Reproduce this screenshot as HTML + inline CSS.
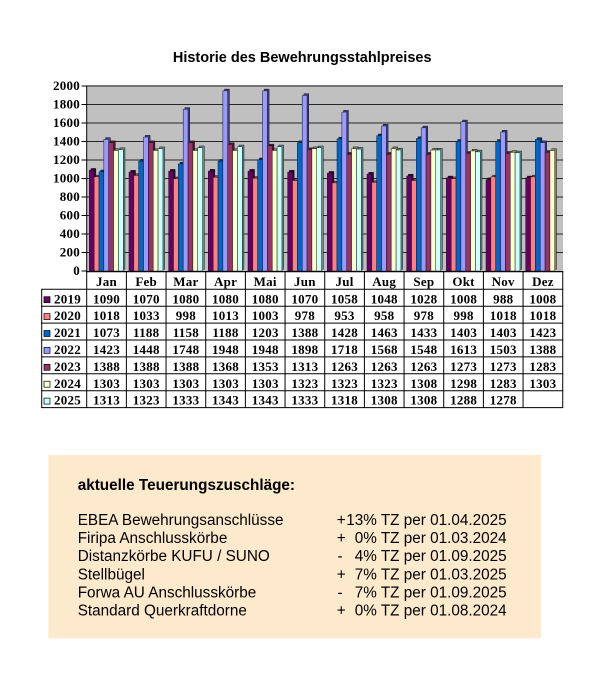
<!DOCTYPE html>
<html>
<head>
<meta charset="utf-8">
<style>
html,body{margin:0;padding:0;background:#fff;}
body{width:607px;height:678px;overflow:hidden;}
svg{display:block;}
.bars rect{stroke:#151515;stroke-width:0.5;vector-effect:non-scaling-stroke;}
.f0{fill:#660066}.b0{fill:#2e002e}
.f1{fill:#ff8080}.b1{fill:#9a4646}
.f2{fill:#0066cc}.b2{fill:#00336b}
.f3{fill:#9999ff}.b3{fill:#3d3d8a}
.f4{fill:#993366}.b4{fill:#4d1530}
.f5{fill:#ffffcc}.b5{fill:#86865e}
.f6{fill:#ccffff}.b6{fill:#5f8f8f}
.ser{font-family:"Liberation Serif",serif;font-weight:bold;font-size:13px;letter-spacing:0.25px;fill:#000;}
.sans{font-family:"Liberation Sans",Arial,sans-serif;fill:#000;}
</style>
</head>
<body>
<svg width="607" height="678" viewBox="0 0 607 678" xmlns="http://www.w3.org/2000/svg">
<!-- title -->
<text class="sans" x="302.2" y="62" text-anchor="middle" font-size="14.5" font-weight="bold">Historie des Bewehrungsstahlpreises</text>

<!-- plot background -->
<rect x="87" y="85" width="476" height="186" fill="#c0c0c0"/>

<!-- gridlines -->
<g stroke="#262626" stroke-width="0.9">
<line x1="87" y1="252.5" x2="563" y2="252.5"/>
<line x1="87" y1="234" x2="563" y2="234"/>
<line x1="87" y1="215.5" x2="563" y2="215.5"/>
<line x1="87" y1="197" x2="563" y2="197"/>
<line x1="87" y1="178.5" x2="563" y2="178.5"/>
<line x1="87" y1="160" x2="563" y2="160"/>
<line x1="87" y1="141.5" x2="563" y2="141.5"/>
<line x1="87" y1="123" x2="563" y2="123"/>
<line x1="87" y1="104.5" x2="563" y2="104.5"/>
<line x1="87" y1="86" x2="563" y2="86"/>
</g>
<!-- ticks & y axis -->
<g stroke="#000" stroke-width="1">
<line x1="86.7" y1="85.5" x2="86.7" y2="272"/>
<line x1="81.5" y1="271" x2="87" y2="271"/>
<line x1="81.5" y1="252.5" x2="87" y2="252.5"/>
<line x1="81.5" y1="234" x2="87" y2="234"/>
<line x1="81.5" y1="215.5" x2="87" y2="215.5"/>
<line x1="81.5" y1="197" x2="87" y2="197"/>
<line x1="81.5" y1="178.5" x2="87" y2="178.5"/>
<line x1="81.5" y1="160" x2="87" y2="160"/>
<line x1="81.5" y1="141.5" x2="87" y2="141.5"/>
<line x1="81.5" y1="123" x2="87" y2="123"/>
<line x1="81.5" y1="104.5" x2="87" y2="104.5"/>
<line x1="81.5" y1="86" x2="87" y2="86"/>
</g>
<g class="ser" text-anchor="end">
<text x="80" y="275">0</text>
<text x="80" y="256.5">200</text>
<text x="80" y="238">400</text>
<text x="80" y="219.5">600</text>
<text x="80" y="201">800</text>
<text x="80" y="182.5">1000</text>
<text x="80" y="164">1200</text>
<text x="80" y="145.5">1400</text>
<text x="80" y="127">1600</text>
<text x="80" y="108.5">1800</text>
<text x="80" y="90">2000</text>
</g>

<!-- bars -->
<g class="bars" transform="translate(0,271) scale(1,-0.0925)">
<g transform="translate(86.7,0)">
<rect class="b0" x="4.3" y="18.4" width="4.85" height="1090"/><rect class="f0" x="2.6" y="0" width="4.85" height="1090"/>
<rect class="b1" x="9.15" y="18.4" width="4.85" height="1018"/><rect class="f1" x="7.45" y="0" width="4.85" height="1018"/>
<rect class="b2" x="14" y="18.4" width="4.85" height="1073"/><rect class="f2" x="12.3" y="0" width="4.85" height="1073"/>
<rect class="b3" x="18.85" y="18.4" width="4.85" height="1423"/><rect class="f3" x="17.15" y="0" width="4.85" height="1423"/>
<rect class="b4" x="23.7" y="18.4" width="4.85" height="1388"/><rect class="f4" x="22" y="0" width="4.85" height="1388"/>
<rect class="b5" x="28.55" y="18.4" width="4.85" height="1303"/><rect class="f5" x="26.85" y="0" width="4.85" height="1303"/>
<rect class="b6" x="33.4" y="18.4" width="4.85" height="1313"/><rect class="f6" x="31.7" y="0" width="4.85" height="1313"/>
</g>
<g transform="translate(126.37,0)">
<rect class="b0" x="4.3" y="18.4" width="4.85" height="1070"/><rect class="f0" x="2.6" y="0" width="4.85" height="1070"/>
<rect class="b1" x="9.15" y="18.4" width="4.85" height="1033"/><rect class="f1" x="7.45" y="0" width="4.85" height="1033"/>
<rect class="b2" x="14" y="18.4" width="4.85" height="1188"/><rect class="f2" x="12.3" y="0" width="4.85" height="1188"/>
<rect class="b3" x="18.85" y="18.4" width="4.85" height="1448"/><rect class="f3" x="17.15" y="0" width="4.85" height="1448"/>
<rect class="b4" x="23.7" y="18.4" width="4.85" height="1388"/><rect class="f4" x="22" y="0" width="4.85" height="1388"/>
<rect class="b5" x="28.55" y="18.4" width="4.85" height="1303"/><rect class="f5" x="26.85" y="0" width="4.85" height="1303"/>
<rect class="b6" x="33.4" y="18.4" width="4.85" height="1323"/><rect class="f6" x="31.7" y="0" width="4.85" height="1323"/>
</g>
<g transform="translate(166.04,0)">
<rect class="b0" x="4.3" y="18.4" width="4.85" height="1080"/><rect class="f0" x="2.6" y="0" width="4.85" height="1080"/>
<rect class="b1" x="9.15" y="18.4" width="4.85" height="998"/><rect class="f1" x="7.45" y="0" width="4.85" height="998"/>
<rect class="b2" x="14" y="18.4" width="4.85" height="1158"/><rect class="f2" x="12.3" y="0" width="4.85" height="1158"/>
<rect class="b3" x="18.85" y="18.4" width="4.85" height="1748"/><rect class="f3" x="17.15" y="0" width="4.85" height="1748"/>
<rect class="b4" x="23.7" y="18.4" width="4.85" height="1388"/><rect class="f4" x="22" y="0" width="4.85" height="1388"/>
<rect class="b5" x="28.55" y="18.4" width="4.85" height="1303"/><rect class="f5" x="26.85" y="0" width="4.85" height="1303"/>
<rect class="b6" x="33.4" y="18.4" width="4.85" height="1333"/><rect class="f6" x="31.7" y="0" width="4.85" height="1333"/>
</g>
<g transform="translate(205.71,0)">
<rect class="b0" x="4.3" y="18.4" width="4.85" height="1080"/><rect class="f0" x="2.6" y="0" width="4.85" height="1080"/>
<rect class="b1" x="9.15" y="18.4" width="4.85" height="1013"/><rect class="f1" x="7.45" y="0" width="4.85" height="1013"/>
<rect class="b2" x="14" y="18.4" width="4.85" height="1188"/><rect class="f2" x="12.3" y="0" width="4.85" height="1188"/>
<rect class="b3" x="18.85" y="18.4" width="4.85" height="1948"/><rect class="f3" x="17.15" y="0" width="4.85" height="1948"/>
<rect class="b4" x="23.7" y="18.4" width="4.85" height="1368"/><rect class="f4" x="22" y="0" width="4.85" height="1368"/>
<rect class="b5" x="28.55" y="18.4" width="4.85" height="1303"/><rect class="f5" x="26.85" y="0" width="4.85" height="1303"/>
<rect class="b6" x="33.4" y="18.4" width="4.85" height="1343"/><rect class="f6" x="31.7" y="0" width="4.85" height="1343"/>
</g>
<g transform="translate(245.38,0)">
<rect class="b0" x="4.3" y="18.4" width="4.85" height="1080"/><rect class="f0" x="2.6" y="0" width="4.85" height="1080"/>
<rect class="b1" x="9.15" y="18.4" width="4.85" height="1003"/><rect class="f1" x="7.45" y="0" width="4.85" height="1003"/>
<rect class="b2" x="14" y="18.4" width="4.85" height="1203"/><rect class="f2" x="12.3" y="0" width="4.85" height="1203"/>
<rect class="b3" x="18.85" y="18.4" width="4.85" height="1948"/><rect class="f3" x="17.15" y="0" width="4.85" height="1948"/>
<rect class="b4" x="23.7" y="18.4" width="4.85" height="1353"/><rect class="f4" x="22" y="0" width="4.85" height="1353"/>
<rect class="b5" x="28.55" y="18.4" width="4.85" height="1303"/><rect class="f5" x="26.85" y="0" width="4.85" height="1303"/>
<rect class="b6" x="33.4" y="18.4" width="4.85" height="1343"/><rect class="f6" x="31.7" y="0" width="4.85" height="1343"/>
</g>
<g transform="translate(285.05,0)">
<rect class="b0" x="4.3" y="18.4" width="4.85" height="1070"/><rect class="f0" x="2.6" y="0" width="4.85" height="1070"/>
<rect class="b1" x="9.15" y="18.4" width="4.85" height="978"/><rect class="f1" x="7.45" y="0" width="4.85" height="978"/>
<rect class="b2" x="14" y="18.4" width="4.85" height="1388"/><rect class="f2" x="12.3" y="0" width="4.85" height="1388"/>
<rect class="b3" x="18.85" y="18.4" width="4.85" height="1898"/><rect class="f3" x="17.15" y="0" width="4.85" height="1898"/>
<rect class="b4" x="23.7" y="18.4" width="4.85" height="1313"/><rect class="f4" x="22" y="0" width="4.85" height="1313"/>
<rect class="b5" x="28.55" y="18.4" width="4.85" height="1323"/><rect class="f5" x="26.85" y="0" width="4.85" height="1323"/>
<rect class="b6" x="33.4" y="18.4" width="4.85" height="1333"/><rect class="f6" x="31.7" y="0" width="4.85" height="1333"/>
</g>
<g transform="translate(324.72,0)">
<rect class="b0" x="4.3" y="18.4" width="4.85" height="1058"/><rect class="f0" x="2.6" y="0" width="4.85" height="1058"/>
<rect class="b1" x="9.15" y="18.4" width="4.85" height="953"/><rect class="f1" x="7.45" y="0" width="4.85" height="953"/>
<rect class="b2" x="14" y="18.4" width="4.85" height="1428"/><rect class="f2" x="12.3" y="0" width="4.85" height="1428"/>
<rect class="b3" x="18.85" y="18.4" width="4.85" height="1718"/><rect class="f3" x="17.15" y="0" width="4.85" height="1718"/>
<rect class="b4" x="23.7" y="18.4" width="4.85" height="1263"/><rect class="f4" x="22" y="0" width="4.85" height="1263"/>
<rect class="b5" x="28.55" y="18.4" width="4.85" height="1323"/><rect class="f5" x="26.85" y="0" width="4.85" height="1323"/>
<rect class="b6" x="33.4" y="18.4" width="4.85" height="1318"/><rect class="f6" x="31.7" y="0" width="4.85" height="1318"/>
</g>
<g transform="translate(364.39,0)">
<rect class="b0" x="4.3" y="18.4" width="4.85" height="1048"/><rect class="f0" x="2.6" y="0" width="4.85" height="1048"/>
<rect class="b1" x="9.15" y="18.4" width="4.85" height="958"/><rect class="f1" x="7.45" y="0" width="4.85" height="958"/>
<rect class="b2" x="14" y="18.4" width="4.85" height="1463"/><rect class="f2" x="12.3" y="0" width="4.85" height="1463"/>
<rect class="b3" x="18.85" y="18.4" width="4.85" height="1568"/><rect class="f3" x="17.15" y="0" width="4.85" height="1568"/>
<rect class="b4" x="23.7" y="18.4" width="4.85" height="1263"/><rect class="f4" x="22" y="0" width="4.85" height="1263"/>
<rect class="b5" x="28.55" y="18.4" width="4.85" height="1323"/><rect class="f5" x="26.85" y="0" width="4.85" height="1323"/>
<rect class="b6" x="33.4" y="18.4" width="4.85" height="1308"/><rect class="f6" x="31.7" y="0" width="4.85" height="1308"/>
</g>
<g transform="translate(404.06,0)">
<rect class="b0" x="4.3" y="18.4" width="4.85" height="1028"/><rect class="f0" x="2.6" y="0" width="4.85" height="1028"/>
<rect class="b1" x="9.15" y="18.4" width="4.85" height="978"/><rect class="f1" x="7.45" y="0" width="4.85" height="978"/>
<rect class="b2" x="14" y="18.4" width="4.85" height="1433"/><rect class="f2" x="12.3" y="0" width="4.85" height="1433"/>
<rect class="b3" x="18.85" y="18.4" width="4.85" height="1548"/><rect class="f3" x="17.15" y="0" width="4.85" height="1548"/>
<rect class="b4" x="23.7" y="18.4" width="4.85" height="1263"/><rect class="f4" x="22" y="0" width="4.85" height="1263"/>
<rect class="b5" x="28.55" y="18.4" width="4.85" height="1308"/><rect class="f5" x="26.85" y="0" width="4.85" height="1308"/>
<rect class="b6" x="33.4" y="18.4" width="4.85" height="1308"/><rect class="f6" x="31.7" y="0" width="4.85" height="1308"/>
</g>
<g transform="translate(443.73,0)">
<rect class="b0" x="4.3" y="18.4" width="4.85" height="1008"/><rect class="f0" x="2.6" y="0" width="4.85" height="1008"/>
<rect class="b1" x="9.15" y="18.4" width="4.85" height="998"/><rect class="f1" x="7.45" y="0" width="4.85" height="998"/>
<rect class="b2" x="14" y="18.4" width="4.85" height="1403"/><rect class="f2" x="12.3" y="0" width="4.85" height="1403"/>
<rect class="b3" x="18.85" y="18.4" width="4.85" height="1613"/><rect class="f3" x="17.15" y="0" width="4.85" height="1613"/>
<rect class="b4" x="23.7" y="18.4" width="4.85" height="1273"/><rect class="f4" x="22" y="0" width="4.85" height="1273"/>
<rect class="b5" x="28.55" y="18.4" width="4.85" height="1298"/><rect class="f5" x="26.85" y="0" width="4.85" height="1298"/>
<rect class="b6" x="33.4" y="18.4" width="4.85" height="1288"/><rect class="f6" x="31.7" y="0" width="4.85" height="1288"/>
</g>
<g transform="translate(483.4,0)">
<rect class="b0" x="4.3" y="18.4" width="4.85" height="988"/><rect class="f0" x="2.6" y="0" width="4.85" height="988"/>
<rect class="b1" x="9.15" y="18.4" width="4.85" height="1018"/><rect class="f1" x="7.45" y="0" width="4.85" height="1018"/>
<rect class="b2" x="14" y="18.4" width="4.85" height="1403"/><rect class="f2" x="12.3" y="0" width="4.85" height="1403"/>
<rect class="b3" x="18.85" y="18.4" width="4.85" height="1503"/><rect class="f3" x="17.15" y="0" width="4.85" height="1503"/>
<rect class="b4" x="23.7" y="18.4" width="4.85" height="1273"/><rect class="f4" x="22" y="0" width="4.85" height="1273"/>
<rect class="b5" x="28.55" y="18.4" width="4.85" height="1283"/><rect class="f5" x="26.85" y="0" width="4.85" height="1283"/>
<rect class="b6" x="33.4" y="18.4" width="4.85" height="1278"/><rect class="f6" x="31.7" y="0" width="4.85" height="1278"/>
</g>
<g transform="translate(523.07,0)">
<rect class="b0" x="4.3" y="18.4" width="4.85" height="1008"/><rect class="f0" x="2.6" y="0" width="4.85" height="1008"/>
<rect class="b1" x="9.15" y="18.4" width="4.85" height="1018"/><rect class="f1" x="7.45" y="0" width="4.85" height="1018"/>
<rect class="b2" x="14" y="18.4" width="4.85" height="1423"/><rect class="f2" x="12.3" y="0" width="4.85" height="1423"/>
<rect class="b3" x="18.85" y="18.4" width="4.85" height="1388"/><rect class="f3" x="17.15" y="0" width="4.85" height="1388"/>
<rect class="b4" x="23.7" y="18.4" width="4.85" height="1283"/><rect class="f4" x="22" y="0" width="4.85" height="1283"/>
<rect class="b5" x="28.55" y="18.4" width="4.85" height="1303"/><rect class="f5" x="26.85" y="0" width="4.85" height="1303"/>
</g>
</g>

<!-- data table -->
<rect x="41.7" y="289.3" width="521" height="118.3" fill="#fff"/>
<g stroke="#000" stroke-width="1" fill="none">
<line x1="86.2" y1="271.6" x2="563.2" y2="271.6" stroke-width="1.3"/>
<line x1="41.2" y1="289.3" x2="563.2" y2="289.3"/>
<line x1="41.2" y1="306.2" x2="563.2" y2="306.2"/>
<line x1="41.2" y1="323.1" x2="563.2" y2="323.1"/>
<line x1="41.2" y1="340" x2="563.2" y2="340"/>
<line x1="41.2" y1="356.9" x2="563.2" y2="356.9"/>
<line x1="41.2" y1="373.8" x2="563.2" y2="373.8"/>
<line x1="41.2" y1="390.7" x2="563.2" y2="390.7"/>
<line x1="41.2" y1="407.6" x2="563.2" y2="407.6"/>
<line x1="41.7" y1="289.3" x2="41.7" y2="407.6"/>
<line x1="86.7" y1="271" x2="86.7" y2="407.6"/>
<line x1="126.37" y1="271" x2="126.37" y2="407.6"/>
<line x1="166.04" y1="271" x2="166.04" y2="407.6"/>
<line x1="205.71" y1="271" x2="205.71" y2="407.6"/>
<line x1="245.38" y1="271" x2="245.38" y2="407.6"/>
<line x1="285.05" y1="271" x2="285.05" y2="407.6"/>
<line x1="324.72" y1="271" x2="324.72" y2="407.6"/>
<line x1="364.39" y1="271" x2="364.39" y2="407.6"/>
<line x1="404.06" y1="271" x2="404.06" y2="407.6"/>
<line x1="443.73" y1="271" x2="443.73" y2="407.6"/>
<line x1="483.4" y1="271" x2="483.4" y2="407.6"/>
<line x1="523.07" y1="271" x2="523.07" y2="407.6"/>
<line x1="562.74" y1="271" x2="562.74" y2="407.6"/>
</g>

<!-- legend keys -->
<g stroke="#000" stroke-width="0.7">
<rect x="44" y="296.7" width="6" height="6" fill="#660066"/>
<rect x="44" y="313.6" width="6" height="6" fill="#ff8080"/>
<rect x="44" y="330.5" width="6" height="6" fill="#0066cc"/>
<rect x="44" y="347.4" width="6" height="6" fill="#9999ff"/>
<rect x="44" y="364.3" width="6" height="6" fill="#993366"/>
<rect x="44" y="381.2" width="6" height="6" fill="#ffffcc"/>
<rect x="44" y="398.1" width="6" height="6" fill="#ccffff"/>
</g>
<g class="ser">
<text x="54" y="303.3">2019</text>
<text x="54" y="320.2">2020</text>
<text x="54" y="337.1">2021</text>
<text x="54" y="354">2022</text>
<text x="54" y="370.9">2023</text>
<text x="54" y="387.8">2024</text>
<text x="54" y="404.7">2025</text>
</g>

<!-- month header -->
<g class="ser" text-anchor="middle">
<text x="106.54" y="286">Jan</text>
<text x="146.21" y="286">Feb</text>
<text x="185.88" y="286">Mar</text>
<text x="225.55" y="286">Apr</text>
<text x="265.22" y="286">Mai</text>
<text x="304.89" y="286">Jun</text>
<text x="344.56" y="286">Jul</text>
<text x="384.23" y="286">Aug</text>
<text x="423.9" y="286">Sep</text>
<text x="463.57" y="286">Okt</text>
<text x="503.24" y="286">Nov</text>
<text x="542.91" y="286">Dez</text>
</g>

<!-- table values -->
<g class="ser" text-anchor="middle">
<text y="303.3"><tspan x="106.54">1090</tspan><tspan x="146.21">1070</tspan><tspan x="185.88">1080</tspan><tspan x="225.55">1080</tspan><tspan x="265.22">1080</tspan><tspan x="304.89">1070</tspan><tspan x="344.56">1058</tspan><tspan x="384.23">1048</tspan><tspan x="423.9">1028</tspan><tspan x="463.57">1008</tspan><tspan x="503.24">988</tspan><tspan x="542.91">1008</tspan></text>
<text y="320.2"><tspan x="106.54">1018</tspan><tspan x="146.21">1033</tspan><tspan x="185.88">998</tspan><tspan x="225.55">1013</tspan><tspan x="265.22">1003</tspan><tspan x="304.89">978</tspan><tspan x="344.56">953</tspan><tspan x="384.23">958</tspan><tspan x="423.9">978</tspan><tspan x="463.57">998</tspan><tspan x="503.24">1018</tspan><tspan x="542.91">1018</tspan></text>
<text y="337.1"><tspan x="106.54">1073</tspan><tspan x="146.21">1188</tspan><tspan x="185.88">1158</tspan><tspan x="225.55">1188</tspan><tspan x="265.22">1203</tspan><tspan x="304.89">1388</tspan><tspan x="344.56">1428</tspan><tspan x="384.23">1463</tspan><tspan x="423.9">1433</tspan><tspan x="463.57">1403</tspan><tspan x="503.24">1403</tspan><tspan x="542.91">1423</tspan></text>
<text y="354"><tspan x="106.54">1423</tspan><tspan x="146.21">1448</tspan><tspan x="185.88">1748</tspan><tspan x="225.55">1948</tspan><tspan x="265.22">1948</tspan><tspan x="304.89">1898</tspan><tspan x="344.56">1718</tspan><tspan x="384.23">1568</tspan><tspan x="423.9">1548</tspan><tspan x="463.57">1613</tspan><tspan x="503.24">1503</tspan><tspan x="542.91">1388</tspan></text>
<text y="370.9"><tspan x="106.54">1388</tspan><tspan x="146.21">1388</tspan><tspan x="185.88">1388</tspan><tspan x="225.55">1368</tspan><tspan x="265.22">1353</tspan><tspan x="304.89">1313</tspan><tspan x="344.56">1263</tspan><tspan x="384.23">1263</tspan><tspan x="423.9">1263</tspan><tspan x="463.57">1273</tspan><tspan x="503.24">1273</tspan><tspan x="542.91">1283</tspan></text>
<text y="387.8"><tspan x="106.54">1303</tspan><tspan x="146.21">1303</tspan><tspan x="185.88">1303</tspan><tspan x="225.55">1303</tspan><tspan x="265.22">1303</tspan><tspan x="304.89">1323</tspan><tspan x="344.56">1323</tspan><tspan x="384.23">1323</tspan><tspan x="423.9">1308</tspan><tspan x="463.57">1298</tspan><tspan x="503.24">1283</tspan><tspan x="542.91">1303</tspan></text>
<text y="404.7"><tspan x="106.54">1313</tspan><tspan x="146.21">1323</tspan><tspan x="185.88">1333</tspan><tspan x="225.55">1343</tspan><tspan x="265.22">1343</tspan><tspan x="304.89">1333</tspan><tspan x="344.56">1318</tspan><tspan x="384.23">1308</tspan><tspan x="423.9">1308</tspan><tspan x="463.57">1288</tspan><tspan x="503.24">1278</tspan></text>
</g>

<!-- surcharge box -->
<rect x="48.3" y="455" width="492.7" height="183.3" fill="#fde9cc"/>
<g class="sans" font-size="15.3">
<text x="77.7" y="490" font-weight="bold">aktuelle Teuerungszuschläge:</text>
<text x="77.7" y="525">EBEA Bewehrungsanschlüsse</text>
<text x="77.7" y="543.1">Firipa Anschlusskörbe</text>
<text x="77.7" y="561.2">Distanzkörbe KUFU / SUNO</text>
<text x="77.7" y="579.3">Stellbügel</text>
<text x="77.7" y="597.4">Forwa AU Anschlusskörbe</text>
<text x="77.7" y="615.5">Standard Querkraftdorne</text>
<text x="336.7" y="525">+</text>
<text x="336.7" y="543.1">+</text>
<text x="337.5" y="561.2">-</text>
<text x="336.7" y="579.3">+</text>
<text x="337.5" y="597.4">-</text>
<text x="336.7" y="615.5">+</text>
</g>
<g class="sans" font-size="15.3" text-anchor="end">
<text x="506.7" y="525">13% TZ per 01.04.2025</text>
<text x="506.7" y="543.1">0% TZ per 01.03.2024</text>
<text x="506.7" y="561.2">4% TZ per 01.09.2025</text>
<text x="506.7" y="579.3">7% TZ per 01.03.2025</text>
<text x="506.7" y="597.4">7% TZ per 01.09.2025</text>
<text x="506.7" y="615.5">0% TZ per 01.08.2024</text>
</g>
</svg>
</body>
</html>
